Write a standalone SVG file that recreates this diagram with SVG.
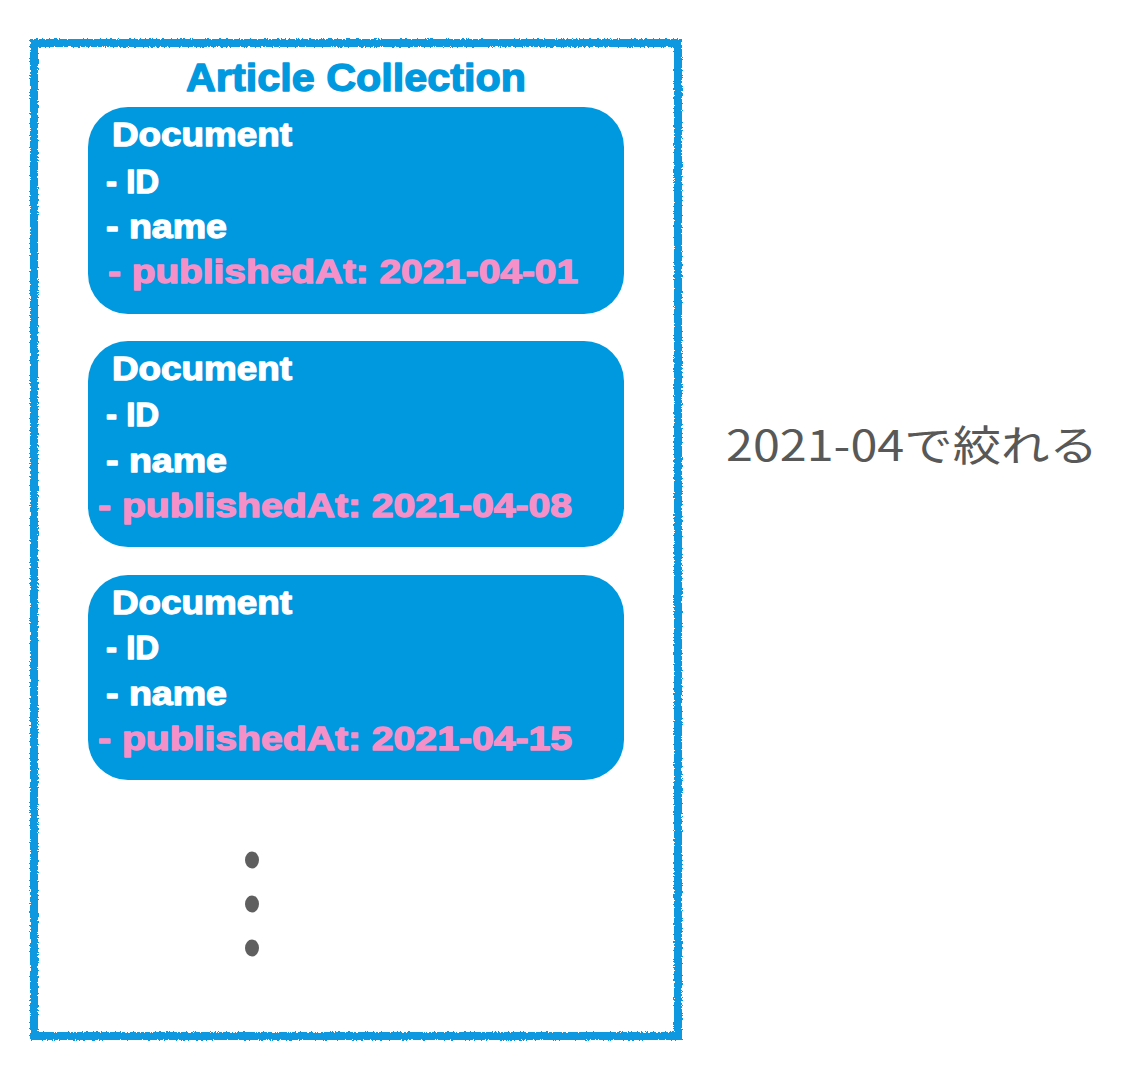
<svg xmlns="http://www.w3.org/2000/svg" width="1128" height="1080" viewBox="0 0 1128 1080">
<defs>
<filter id="rough" x="-5%" y="-5%" width="110%" height="110%">
<feTurbulence type="fractalNoise" baseFrequency="0.6" numOctaves="2" seed="3" result="n"/>
<feDisplacementMap in="SourceGraphic" in2="n" scale="4" xChannelSelector="R" yChannelSelector="G"/>
</filter>
</defs>
<style>
.doc{fill:#0099e0}
.t{font-family:"Liberation Sans",Arial,sans-serif;font-weight:bold;font-size:33px;stroke-width:1.3px;stroke-linejoin:round}
.w{fill:#ffffff;stroke:#ffffff}
.p{fill:#f590c8;stroke:#f590c8}
.dot{fill:#5f5f5f}
</style>
<rect width="1128" height="1080" fill="#ffffff"/>
<g id="collection">
<rect x="34" y="43" width="644" height="993" fill="none" stroke="#0a98e0" stroke-width="8" filter="url(#rough)"/>
<text x="356" y="91" text-anchor="middle" class="t" style="font-size:38px;fill:#0099e0;stroke:#0099e0" textLength="340" lengthAdjust="spacingAndGlyphs">Article Collection</text>
</g>
<g id="doc1">
<rect class="doc" x="88" y="107" width="536" height="207" rx="40"/>
<text class="t w" x="112" y="146" textLength="180" lengthAdjust="spacingAndGlyphs">Document</text>
<text class="t w" x="106" y="193">- ID</text>
<text class="t w" x="106" y="238" textLength="121" lengthAdjust="spacingAndGlyphs">- name</text>
<text class="t p" x="108" y="283" textLength="470" lengthAdjust="spacingAndGlyphs">- publishedAt: 2021-04-01</text>
</g>
<g id="doc2">
<rect class="doc" x="88" y="341" width="536" height="206" rx="40"/>
<text class="t w" x="112" y="380" textLength="180" lengthAdjust="spacingAndGlyphs">Document</text>
<text class="t w" x="106" y="426">- ID</text>
<text class="t w" x="106" y="472" textLength="121" lengthAdjust="spacingAndGlyphs">- name</text>
<text class="t p" x="98" y="517" textLength="474" lengthAdjust="spacingAndGlyphs">- publishedAt: 2021-04-08</text>
</g>
<g id="doc3">
<rect class="doc" x="88" y="575" width="536" height="205" rx="40"/>
<text class="t w" x="112" y="614" textLength="180" lengthAdjust="spacingAndGlyphs">Document</text>
<text class="t w" x="106" y="659">- ID</text>
<text class="t w" x="106" y="705" textLength="121" lengthAdjust="spacingAndGlyphs">- name</text>
<text class="t p" x="98" y="750" textLength="474" lengthAdjust="spacingAndGlyphs">- publishedAt: 2021-04-15</text>
</g>
<g id="ellipsis">
<ellipse class="dot" cx="252" cy="860" rx="7" ry="8.5"/>
<ellipse class="dot" cx="252" cy="904" rx="7" ry="8.5"/>
<ellipse class="dot" cx="252" cy="948" rx="7" ry="8.5"/>
</g>
<g id="note">
<text x="726" y="461" font-family="'Noto Sans CJK JP','Noto Sans',sans-serif" font-size="42" fill="#585858" textLength="372" lengthAdjust="spacingAndGlyphs">2021-04で絞れる</text>
</g>
<g id="connectors"/>
</svg>
